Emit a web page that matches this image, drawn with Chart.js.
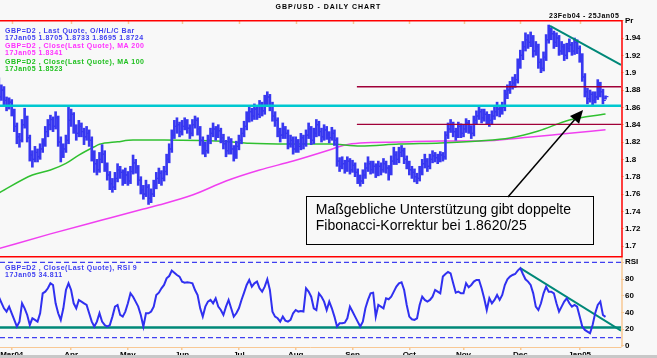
<!DOCTYPE html>
<html><head><meta charset="utf-8">
<script src="https://cdn.jsdelivr.net/npm/chart.js@4.4.1/dist/chart.umd.min.js"></script>
<style>
html,body{margin:0;padding:0;background:#f8f8f8;}
#wrap{position:relative;width:657px;height:358px;overflow:hidden;background:#f8f8f8;font-family:"Liberation Sans",Arial,sans-serif;}
.t{position:absolute;white-space:nowrap;font-weight:bold;font-size:7px;letter-spacing:0.5px;line-height:8px;}
#c1{position:absolute;left:0;top:0;}
#c2{position:absolute;left:0;top:256px;}
#strip{position:absolute;left:0;top:355px;width:657px;height:3px;background:#c8c8c8;}
</style></head><body>
<div id="wrap">
<canvas id="c1" width="657" height="256"></canvas>
<canvas id="c2" width="657" height="102"></canvas>
<div class="t" style="left:0;width:657px;text-align:center;top:3px;font-size:7px;letter-spacing:1px;color:#000">GBP/USD - DAILY CHART</div>
<div class="t" style="left:549px;top:12px;color:#000">23Feb04 - 25Jan05</div>
<div class="t" style="left:5px;top:27px;color:#4040f0">GBP=D2 , Last Quote, O/H/L/C Bar</div>
<div class="t" style="left:5px;top:34px;color:#4040f0">17Jan05 1.8705 1.8733 1.8695 1.8724</div>
<div class="t" style="left:5px;top:42px;color:#ff30ff">GBP=D2 , Close(Last Quote), MA 200</div>
<div class="t" style="left:5px;top:49px;color:#ff30ff">17Jan05 1.8341</div>
<div class="t" style="left:5px;top:58px;color:#20c020">GBP=D2 , Close(Last Quote), MA 100</div>
<div class="t" style="left:5px;top:65px;color:#20c020">17Jan05 1.8523</div>
<div class="t" style="left:5px;top:264px;color:#4040f0">GBP=D2 , Close(Last Quote), RSI 9</div>
<div class="t" style="left:5px;top:271px;color:#4040f0">17Jan05 34.811</div>
<div id="strip"></div>
</div>
<script>
// ---------- data ----------
const monthDays = [5, 28, 50, 71, 93, 115, 137, 159, 180, 202, 225];
const monthLabels = ['Mar04','Apr','May','Jun','Jul','Aug','Sep','Oct','Nov','Dec','Jan05'];

const opens = [1.878,1.872,1.880,1.868,1.862,1.866,1.855,1.838,1.826,1.822,
1.840,1.848,1.825,1.805,1.800,1.808,1.803,1.812,1.818,1.832,
1.840,1.846,1.838,1.848,1.820,1.808,1.812,1.822,1.845,1.852,
1.835,1.830,1.838,1.832,1.826,1.830,1.822,1.805,1.795,1.788,
1.800,1.806,1.792,1.782,1.772,1.768,1.778,1.788,1.785,1.776,
1.782,1.775,1.786,1.796,1.790,1.776,1.765,1.760,1.768,1.755,
1.760,1.770,1.778,1.784,1.778,1.786,1.800,1.812,1.828,1.838,
1.840,1.832,1.838,1.843,1.836,1.830,1.840,1.845,1.835,1.822,
1.815,1.810,1.822,1.830,1.835,1.828,1.833,1.825,1.818,1.810,
1.820,1.812,1.805,1.815,1.822,1.830,1.838,1.848,1.855,1.850,
1.858,1.852,1.862,1.856,1.868,1.872,1.862,1.850,1.845,1.832,
1.828,1.835,1.830,1.818,1.822,1.812,1.820,1.815,1.825,1.818,
1.828,1.835,1.822,1.830,1.840,1.832,1.826,1.834,1.828,1.825,
1.830,1.822,1.798,1.792,1.795,1.790,1.798,1.788,1.793,1.785,
1.778,1.775,1.782,1.790,1.795,1.788,1.792,1.785,1.792,1.788,
1.795,1.790,1.786,1.798,1.805,1.800,1.808,1.810,1.800,1.795,
1.788,1.785,1.780,1.778,1.786,1.795,1.798,1.792,1.800,1.804,
1.802,1.800,1.805,1.803,1.828,1.835,1.840,1.832,1.828,1.838,
1.830,1.835,1.842,1.836,1.830,1.845,1.850,1.855,1.848,1.852,
1.848,1.845,1.850,1.855,1.858,1.856,1.860,1.875,1.880,1.885,
1.888,1.892,1.910,1.920,1.930,1.938,1.935,1.940,1.925,1.930,
1.912,1.905,1.918,1.938,1.948,1.945,1.935,1.940,1.925,1.930,
1.920,1.928,1.932,1.925,1.935,1.928,1.918,1.895,1.878,1.870,
1.875,1.868,1.872,1.885,1.878,1.8705];

const highs = [1.894,1.886,1.884,1.872,1.871,1.869,1.858,1.842,1.830,1.846,
1.859,1.850,1.828,1.810,1.815,1.812,1.818,1.824,1.838,1.846,
1.851,1.849,1.855,1.850,1.826,1.818,1.828,1.860,1.858,1.854,
1.840,1.845,1.842,1.836,1.838,1.834,1.826,1.810,1.800,1.808,
1.817,1.810,1.796,1.786,1.778,1.785,1.795,1.792,1.788,1.790,
1.786,1.792,1.805,1.800,1.793,1.780,1.770,1.776,1.771,1.766,
1.776,1.785,1.790,1.787,1.792,1.806,1.818,1.834,1.845,1.848,
1.843,1.845,1.848,1.846,1.840,1.846,1.850,1.848,1.838,1.826,
1.820,1.828,1.836,1.842,1.838,1.840,1.836,1.829,1.822,1.826,
1.824,1.816,1.821,1.828,1.836,1.844,1.855,1.862,1.859,1.864,
1.861,1.868,1.866,1.874,1.878,1.875,1.866,1.855,1.848,1.836,
1.842,1.838,1.834,1.828,1.826,1.826,1.823,1.830,1.828,1.834,
1.842,1.838,1.836,1.846,1.844,1.836,1.840,1.838,1.832,1.837,
1.834,1.825,1.802,1.803,1.799,1.803,1.801,1.799,1.796,1.789,
1.782,1.788,1.796,1.803,1.798,1.798,1.795,1.798,1.796,1.801,
1.798,1.793,1.804,1.814,1.809,1.814,1.816,1.813,1.804,1.798,
1.792,1.789,1.784,1.792,1.800,1.806,1.801,1.806,1.810,1.808,
1.806,1.809,1.808,1.832,1.842,1.846,1.843,1.836,1.843,1.841,
1.840,1.847,1.845,1.839,1.850,1.856,1.861,1.858,1.858,1.855,
1.852,1.856,1.862,1.866,1.862,1.866,1.880,1.886,1.890,1.895,
1.898,1.916,1.926,1.936,1.946,1.944,1.947,1.943,1.936,1.933,
1.916,1.924,1.944,1.955,1.952,1.948,1.946,1.943,1.936,1.933,
1.934,1.939,1.935,1.940,1.938,1.931,1.922,1.899,1.882,1.880,
1.878,1.878,1.892,1.889,1.881,1.8733];

const lows = [1.866,1.868,1.862,1.856,1.858,1.850,1.832,1.818,1.814,1.820,
1.836,1.820,1.798,1.791,1.797,1.797,1.800,1.808,1.815,1.826,
1.834,1.832,1.835,1.815,1.797,1.802,1.808,1.818,1.838,1.830,
1.822,1.826,1.826,1.817,1.822,1.815,1.798,1.785,1.782,1.785,
1.796,1.786,1.776,1.765,1.762,1.765,1.774,1.778,1.770,1.772,
1.770,1.772,1.783,1.784,1.770,1.760,1.754,1.757,1.748,1.750,
1.757,1.766,1.772,1.770,1.775,1.782,1.796,1.808,1.824,1.830,
1.826,1.828,1.834,1.830,1.824,1.827,1.836,1.828,1.816,1.806,
1.803,1.807,1.818,1.826,1.822,1.825,1.819,1.812,1.803,1.806,
1.806,1.798,1.801,1.811,1.818,1.826,1.834,1.843,1.844,1.846,
1.846,1.848,1.850,1.852,1.862,1.856,1.844,1.838,1.826,1.820,
1.824,1.824,1.812,1.814,1.806,1.808,1.808,1.811,1.812,1.815,
1.824,1.817,1.818,1.826,1.827,1.820,1.822,1.823,1.819,1.822,
1.816,1.792,1.786,1.789,1.784,1.786,1.783,1.785,1.780,1.772,
1.769,1.772,1.778,1.786,1.783,1.784,1.779,1.781,1.782,1.785,
1.784,1.776,1.782,1.794,1.794,1.796,1.803,1.795,1.789,1.782,
1.778,1.774,1.772,1.775,1.782,1.790,1.786,1.789,1.796,1.797,
1.795,1.797,1.798,1.800,1.824,1.831,1.826,1.822,1.825,1.825,
1.826,1.831,1.830,1.824,1.827,1.841,1.846,1.842,1.844,1.841,
1.838,1.841,1.846,1.850,1.849,1.852,1.856,1.870,1.876,1.881,
1.883,1.888,1.905,1.915,1.925,1.928,1.930,1.918,1.920,1.905,
1.900,1.902,1.914,1.934,1.938,1.928,1.930,1.920,1.921,1.914,
1.916,1.924,1.920,1.921,1.922,1.912,1.890,1.872,1.864,1.866,
1.863,1.865,1.869,1.872,1.864,1.8695];

const closes = [1.872,1.880,1.868,1.862,1.866,1.855,1.838,1.826,1.822,1.840,
1.848,1.825,1.805,1.800,1.808,1.803,1.812,1.818,1.832,1.840,
1.846,1.838,1.848,1.820,1.808,1.812,1.822,1.845,1.852,1.835,
1.830,1.838,1.832,1.826,1.830,1.822,1.805,1.795,1.788,1.800,
1.806,1.792,1.782,1.772,1.768,1.778,1.788,1.785,1.776,1.782,
1.775,1.786,1.796,1.790,1.776,1.765,1.760,1.768,1.755,1.760,
1.770,1.778,1.784,1.778,1.786,1.800,1.812,1.828,1.838,1.840,
1.832,1.838,1.843,1.836,1.830,1.840,1.845,1.835,1.822,1.815,
1.810,1.822,1.830,1.835,1.828,1.833,1.825,1.818,1.810,1.820,
1.812,1.805,1.815,1.822,1.830,1.838,1.848,1.855,1.850,1.858,
1.852,1.862,1.856,1.868,1.872,1.862,1.850,1.845,1.832,1.828,
1.835,1.830,1.818,1.822,1.812,1.820,1.815,1.825,1.818,1.828,
1.835,1.822,1.830,1.840,1.832,1.826,1.834,1.828,1.825,1.830,
1.822,1.798,1.792,1.795,1.790,1.798,1.788,1.793,1.785,1.778,
1.775,1.782,1.790,1.795,1.788,1.792,1.785,1.792,1.788,1.795,
1.790,1.786,1.798,1.805,1.800,1.808,1.810,1.800,1.795,1.788,
1.785,1.780,1.778,1.786,1.795,1.798,1.792,1.800,1.804,1.802,
1.800,1.805,1.803,1.828,1.835,1.840,1.832,1.828,1.838,1.830,
1.835,1.842,1.836,1.830,1.845,1.850,1.855,1.848,1.852,1.848,
1.845,1.850,1.855,1.858,1.856,1.860,1.875,1.880,1.885,1.888,
1.892,1.910,1.920,1.930,1.938,1.935,1.940,1.925,1.930,1.912,
1.905,1.918,1.938,1.948,1.945,1.935,1.940,1.925,1.930,1.920,
1.928,1.932,1.925,1.935,1.928,1.918,1.895,1.878,1.870,1.875,
1.868,1.872,1.885,1.878,1.868,1.8724];

const ma200Days = [0, 20, 40, 56, 62, 75, 88, 101, 114, 128, 134, 140, 155, 171, 186, 206, 218, 235];
const ma200 = [1.697, 1.714, 1.730, 1.7427, 1.7473, 1.7588, 1.775, 1.7877, 1.7981, 1.8108, 1.8166, 1.8189, 1.8200, 1.8212, 1.8212, 1.8258, 1.8292, 1.8341];

const ma100Days = [0, 13, 20, 26, 31, 37, 39, 46, 52, 64, 78, 89, 97, 113, 128, 140, 155, 171, 186, 198, 209, 221, 235];
const ma100 = [1.7612, 1.7819, 1.7877, 1.7954, 1.805, 1.8146, 1.8174, 1.8203, 1.8223, 1.8223, 1.8217, 1.8204, 1.8185, 1.8177, 1.8177, 1.8154, 1.8177, 1.8189, 1.8212, 1.8246, 1.8327, 1.8454, 1.8523];

const rsi9 = [58.9,51.8,45.0,41.1,47.0,39.1,31.1,23.2,29.1,51.0,
45.0,37.1,25.1,33.1,31.1,29.1,39.1,62.9,64.9,68.9,
74.9,72.9,51.0,39.1,31.1,45.0,66.9,74.9,66.9,51.0,
45.0,55.0,53.0,51.0,49.0,39.1,29.1,23.2,29.1,39.1,
29.1,25.1,23.2,25.1,35.1,47.0,49.0,37.1,35.1,41.1,
51.0,62.9,58.9,53.0,47.0,37.1,23.2,39.1,39.1,41.1,
47.0,60.9,63.7,68.9,72.9,80.9,83.6,90.0,87.6,84.8,
82.9,76.9,75.7,76.1,75.7,74.9,66.9,60.9,45.0,35.1,
47.0,53.0,55.0,51.0,57.0,47.0,43.0,37.1,47.0,55.0,
45.0,35.1,39.1,45.0,55.0,63.7,72.9,78.9,70.9,74.9,
76.9,68.9,64.9,70.9,79.7,66.9,41.1,35.1,33.1,29.1,
35.1,30.3,29.1,31.1,39.1,43.0,41.1,41.9,41.1,68.9,
64.9,58.9,45.0,43.0,62.9,58.9,53.0,43.0,53.0,45.0,
35.1,23.2,27.1,27.1,27.9,33.1,47.0,41.1,35.1,29.1,
23.2,29.1,45.0,55.0,62.9,63.7,35.1,49.0,47.0,45.0,
57.0,55.8,58.9,64.9,70.9,74.9,76.1,66.9,49.0,35.1,
31.9,31.1,33.1,49.0,58.9,55.0,53.0,55.0,58.9,66.9,
64.9,62.9,82.9,86.0,88.4,86.8,74.9,63.7,64.9,62.9,
62.9,74.9,70.1,72.9,76.9,78.9,78.9,68.9,57.0,43.0,
57.0,51.0,55.0,60.9,55.0,60.9,72.9,79.7,82.9,84.8,
86.0,90.0,93.0,86.0,79.7,76.9,72.9,62.9,47.0,43.0,
51.0,62.9,70.9,64.9,64.9,62.9,51.0,41.1,47.0,53.0,
57.0,51.0,47.0,49.0,47.0,35.1,23.2,19.2,17.2,15.2,
25.1,39.1,49.0,53.0,37.1,34.811];

const supportLevel = 1.862;
const fibLevels = [1.8838, 1.8404];
const fibStartDay = 138.7;
const priceTrend = [[213.5, 1.9539], [241, 1.9089]];
const rsiSupport = 22;
const rsiTrend = [[202, 93.0], [241, 18.4]];
const rsiBands = [100, 10];
const noteLines = ['Maßgebliche Unterstützung gibt doppelte', 'Fibonacci-Korrektur bei 1.8620/25'];
const noteBox = {x0: 118.9, x1: 230.2, y0: 1.7577, y1: 1.7023};
const noteArrow = {x0: 197.2, y0: 1.7566, x1: 226.3, y1: 1.857};

// ---------- chart settings ----------
const X_MIN = 0.46, X_MAX = 241;
const BLUE = '#3838f0', PEACH = '#f8c894', RED = '#ff0000';
const tickFont = {family: '"Liberation Sans", Arial, sans-serif', size: 8, weight: 'bold'};
const days = closes.map((_, i) => i);
const noPad = a => { a.paddingLeft = 0; a.paddingRight = 0; };
const fitRight = a => { a.width = 36; a.paddingTop = 0; a.paddingBottom = 0; };

const mainDecor = {
  id: 'mainDecor',
  afterDraw(chart) {
    const {ctx, chartArea: a, scales: {x, y}} = chart;
    ctx.save();
    ctx.strokeStyle = PEACH; ctx.lineWidth = 1.5;
    monthDays.forEach(d => {
      const px = Math.round(x.getPixelForValue(d)) + 0.5;
      ctx.beginPath(); ctx.moveTo(px, a.top + 1); ctx.lineTo(px, a.top + 4); ctx.stroke();
    });
    ctx.strokeStyle = RED; ctx.lineWidth = 1.5;
    ctx.beginPath(); ctx.moveTo(0, a.top + 0.75); ctx.lineTo(a.right + 1, a.top + 0.75);
    ctx.moveTo(a.right + 1, a.top); ctx.lineTo(a.right + 1, a.bottom); ctx.stroke();
    const bx0 = x.getPixelForValue(noteBox.x0), bx1 = x.getPixelForValue(noteBox.x1);
    const by0 = y.getPixelForValue(noteBox.y0), by1 = y.getPixelForValue(noteBox.y1);
    ctx.fillStyle = '#f8f8f8';
    ctx.fillRect(bx0, by0, bx1 - bx0, by1 - by0);
    ctx.strokeStyle = '#000'; ctx.lineWidth = 1;
    ctx.strokeRect(Math.round(bx0) + 0.5, Math.round(by0) + 0.5, Math.round(bx1 - bx0), Math.round(by1 - by0));
    ctx.fillStyle = '#000';
    ctx.font = '14px "Liberation Sans", Arial, sans-serif';
    ctx.textBaseline = 'alphabetic';
    noteLines.forEach((t, i) => ctx.fillText(t, bx0 + 10, by0 + 18 + i * 16));
    const ax0 = x.getPixelForValue(noteArrow.x0), ay0 = y.getPixelForValue(noteArrow.y0);
    const ax1 = x.getPixelForValue(noteArrow.x1), ay1 = y.getPixelForValue(noteArrow.y1);
    const ang = Math.atan2(ay1 - ay0, ax1 - ax0);
    const L = 13, W = 6;
    const bxA = ax1 - L * Math.cos(ang), byA = ay1 - L * Math.sin(ang);
    ctx.strokeStyle = '#000'; ctx.lineWidth = 1.5;
    ctx.beginPath(); ctx.moveTo(ax0, ay0); ctx.lineTo(bxA, byA); ctx.stroke();
    ctx.beginPath();
    ctx.moveTo(ax1, ay1);
    ctx.lineTo(bxA + W * Math.sin(ang), byA - W * Math.cos(ang));
    ctx.lineTo(bxA - W * Math.sin(ang), byA + W * Math.cos(ang));
    ctx.closePath(); ctx.fill();
    ctx.restore();
  }
};

const rsiDecor = {
  id: 'rsiDecor',
  afterDraw(chart) {
    const {ctx, chartArea: a} = chart;
    ctx.save();
    ctx.strokeStyle = PEACH; ctx.lineWidth = 1.5;
    ctx.beginPath(); ctx.moveTo(a.right + 1, a.top); ctx.lineTo(a.right + 1, a.bottom); ctx.stroke();
    ctx.strokeStyle = RED; ctx.lineWidth = 1.5;
    ctx.beginPath(); ctx.moveTo(0, a.top + 0.8); ctx.lineTo(a.right + 1.75, a.top + 0.8); ctx.stroke();
    ctx.restore();
  }
};

const flatLine = (lvl, from, color, width, extra) => Object.assign({
  type: 'line', data: [{x: from, y: lvl}, {x: X_MAX, y: lvl}],
  borderColor: color, borderWidth: width, pointRadius: 0, pointHoverRadius: 0, fill: false
}, extra || {});

new Chart(document.getElementById('c1'), {
  type: 'bar',
  data: {
    datasets: [
      flatLine(supportLevel, X_MIN, '#00c8d0', 2.5, {order: 0}),
      flatLine(fibLevels[0], fibStartDay, '#a00038', 1.3, {order: 0}),
      flatLine(fibLevels[1], fibStartDay, '#a00038', 1.3, {order: 0}),
      {type: 'line', order: 0, data: priceTrend.map(p => ({x: p[0], y: p[1]})), borderColor: '#008878', borderWidth: 2, pointRadius: 0, pointHoverRadius: 0},
      {type: 'line', order: 1, showLine: false, data: opens.map((v, i) => ({x: days[i] - 0.7, y: v})),
        pointStyle: 'line', pointRadius: 1.1, pointHoverRadius: 0, pointBorderWidth: 1.2, pointBorderColor: BLUE, borderColor: BLUE},
      {type: 'line', order: 1, showLine: false, data: closes.map((v, i) => ({x: days[i] + 0.7, y: v})),
        pointStyle: 'line', pointRadius: 1.1, pointHoverRadius: 0, pointBorderWidth: 1.2, pointBorderColor: BLUE, borderColor: BLUE},
      {type: 'bar', order: 2, data: lows.map((v, i) => ({x: days[i], y: [v, highs[i]]})),
        backgroundColor: BLUE, borderWidth: 0, barThickness: 2, grouped: false},
      {type: 'line', order: 3, data: ma100Days.map((d, i) => ({x: d, y: ma100[i]})), borderColor: '#30c030', borderWidth: 1.5, pointRadius: 0, pointHoverRadius: 0, cubicInterpolationMode: 'monotone'},
      {type: 'line', order: 3, data: ma200Days.map((d, i) => ({x: d, y: ma200[i]})), borderColor: '#f040f0', borderWidth: 1.5, pointRadius: 0, pointHoverRadius: 0, cubicInterpolationMode: 'monotone'}
    ]
  },
  options: {
    responsive: false, animation: false, maintainAspectRatio: false,
    layout: {autoPadding: false, padding: {top: 20, left: 0, right: 0, bottom: 0}},
    events: [],
    plugins: {legend: {display: false}, tooltip: {enabled: false}},
    scales: {
      x: {type: 'linear', min: X_MIN, max: X_MAX, display: false, offset: false, grid: {offset: false},
        ticks: {display: false}, afterFit: noPad},
      y: {
        position: 'right', min: 1.6885, max: 1.9608,
        afterFit: fitRight,
        border: {display: false},
        grid: {drawOnChartArea: false, color: PEACH, tickLength: 3, lineWidth: 1},
        ticks: {stepSize: 0.02, includeBounds: false, autoSkip: false, padding: 1, color: '#000', font: tickFont,
          callback: v => Math.abs(v - 1.96) < 1e-6 ? 'Pr' : String(+(+v).toFixed(2))}
      }
    }
  },
  plugins: [mainDecor]
});

new Chart(document.getElementById('c2'), {
  type: 'line',
  data: {
    datasets: [
      flatLine(rsiBands[0], X_MIN, '#4040f0', 1.2, {borderDash: [5, 3]}),
      flatLine(rsiBands[1], X_MIN, '#4040f0', 1.2, {borderDash: [5, 3]}),
      flatLine(rsiSupport, X_MIN, '#008878', 2.5),
      {data: rsiTrend.map(p => ({x: p[0], y: p[1]})), borderColor: '#008878', borderWidth: 2, pointRadius: 0, pointHoverRadius: 0},
      {data: rsi9.map((v, i) => ({x: days[i], y: v})), borderColor: '#3030f0', borderWidth: 2, pointRadius: 0, pointHoverRadius: 0, order: -1}
    ]
  },
  options: {
    responsive: false, animation: false, maintainAspectRatio: false,
    layout: {autoPadding: false, padding: 0},
    events: [],
    plugins: {legend: {display: false}, tooltip: {enabled: false}},
    scales: {
      x: {
        type: 'linear', min: X_MIN, max: X_MAX, position: 'bottom', offset: false,
        afterFit(a) { a.height = 11; a.paddingLeft = 0; a.paddingRight = 0; },
        afterBuildTicks(a) { a.ticks = monthDays.map(v => ({value: v})); },
        border: {display: true, color: PEACH},
        grid: {drawOnChartArea: false, color: PEACH, tickLength: 3, lineWidth: 1.5},
        ticks: {autoSkip: false, maxRotation: 0, padding: 0, color: '#000', font: tickFont,
          callback: v => monthLabels[monthDays.indexOf(v)]}
      },
      y: {
        position: 'right', min: -1.2, max: 107.5,
        afterFit: fitRight,
        afterBuildTicks(a) { a.ticks = [0, 20, 40, 60, 80, 100].map(v => ({value: v})); },
        border: {display: false},
        grid: {drawOnChartArea: false, color: PEACH, tickLength: 3},
        ticks: {autoSkip: false, padding: 1, color: '#000', font: tickFont,
          callback: v => v === 100 ? 'RSI' : String(v)}
      }
    }
  },
  plugins: [rsiDecor]
});
</script>
</body></html>
